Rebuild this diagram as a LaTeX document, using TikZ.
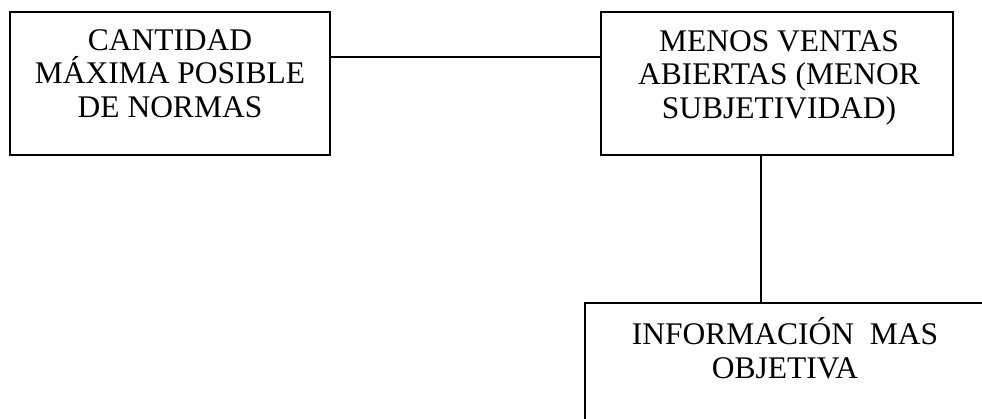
\documentclass[tikz,border=0pt]{standalone}
\usepackage{fontspec}
\setmainfont{Liberation Serif}
\usetikzlibrary{calc}
\begin{document}
\begin{tikzpicture}[x=1pt,y=-1pt,
  box/.style={draw=black, line width=1.6pt, rectangle, inner sep=0pt},
  txt/.style={align=center, inner sep=0pt, anchor=base, font=\fontsize{31.5}{33.5}\selectfont},
  conn/.style={draw=black, line width=1.6pt}]
\useasboundingbox (0,0) rectangle (982,418);
\clip (0,0) rectangle (982,418);
\node[box, minimum width=320pt, minimum height=143pt] (a) at (170,83.5) {};
\node[box, minimum width=352pt, minimum height=143pt] (b) at (777,83.5) {};
\node[box, minimum width=400pt, minimum height=160pt] (c) at (785,383) {};
\node[txt] (ta) at (170,117) {CANTIDAD\\MÁXIMA POSIBLE\\DE NORMAS};
\node[txt] (tb) at (779,118) {MENOS VENTAS\\ABIERTAS (MENOR\\SUBJETIVIDAD)};
\node[txt] (tc) at (785,378) {INFORMACIÓN\ \ MAS\\OBJETIVA};
\coordinate (h) at ($(a.north east)!0.317!(a.south east)$);
\draw[conn] (h) -- (h -| b.west);
\coordinate (v) at ([xshift=-16pt]b.south);
\draw[conn] (v) -- (v |- c.north);
\end{tikzpicture}
\end{document}
